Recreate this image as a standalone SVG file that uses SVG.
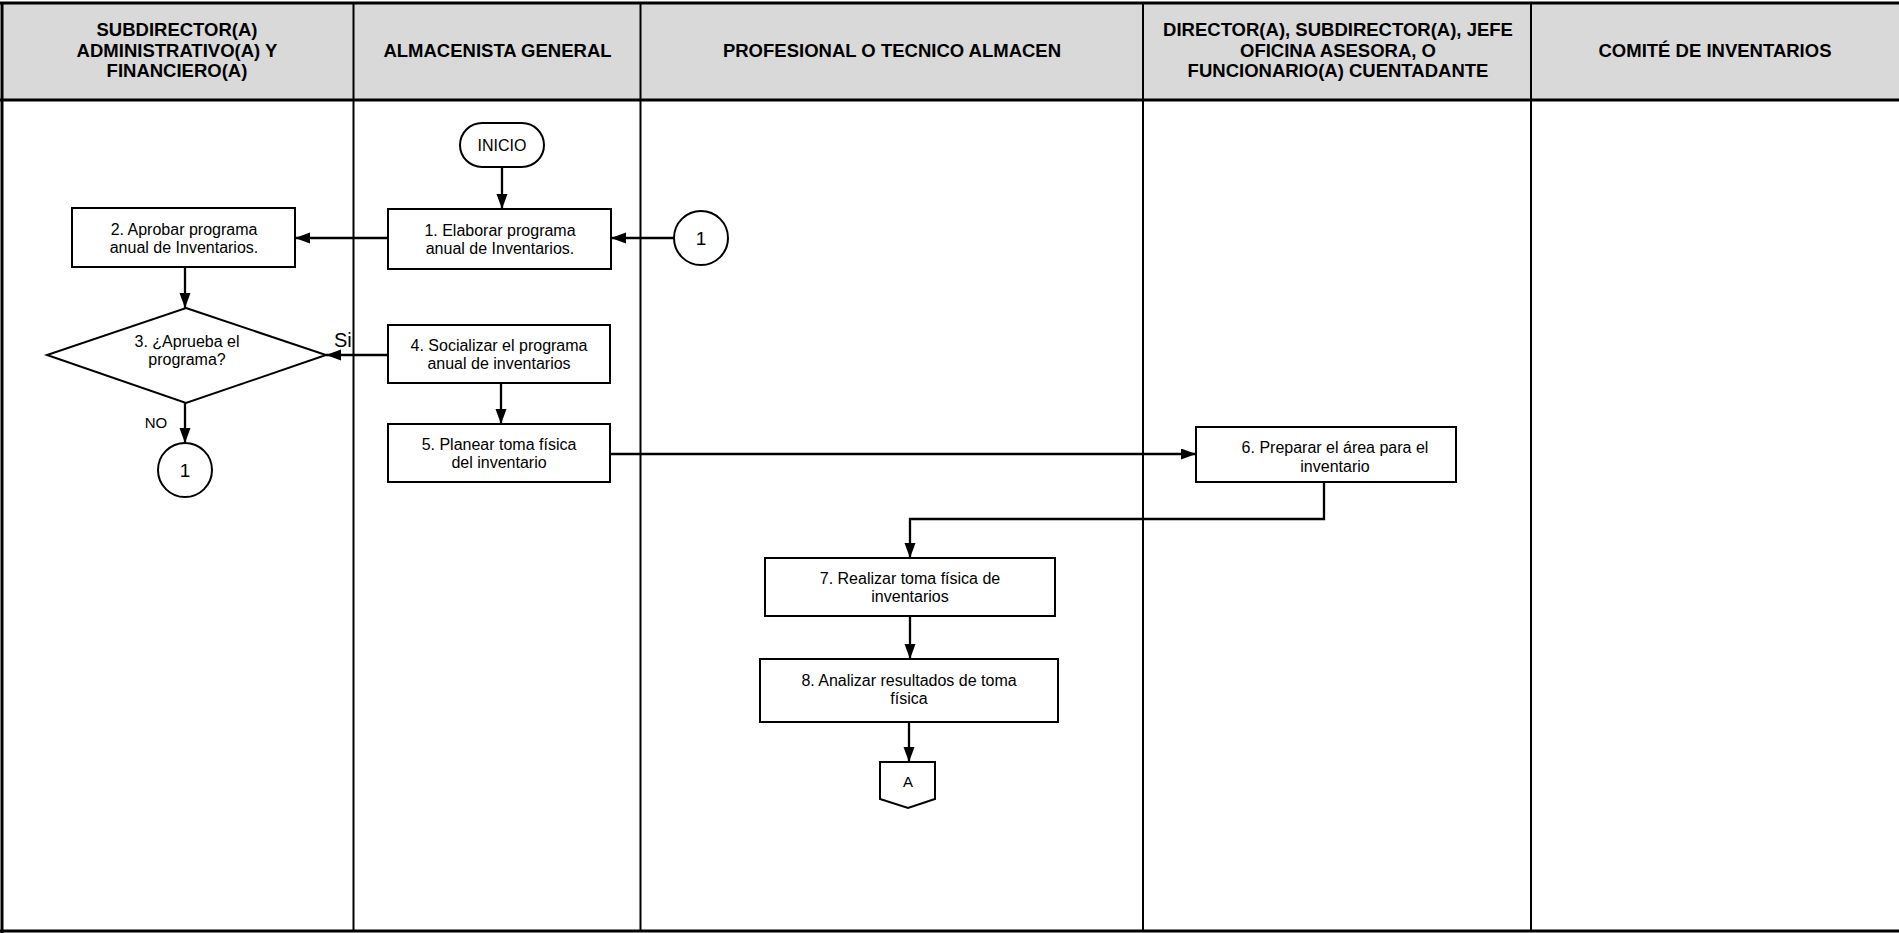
<svg xmlns="http://www.w3.org/2000/svg" width="1899" height="933" viewBox="0 0 1899 933">
<defs>
<style>
.hdr{fill:#d9d9d9;stroke:none}
.frame{stroke:#000;stroke-width:3;fill:none}
.lane{stroke:#000;stroke-width:2;fill:none}
.ht{font-family:"Liberation Sans",Arial,sans-serif;font-weight:bold;font-size:18.5px;fill:#000;text-anchor:middle}
.box{fill:#fff;stroke:#000;stroke-width:2}
.t{font-family:"Liberation Sans",Arial,sans-serif;font-size:16px;fill:#000;text-anchor:middle}
.c{stroke:#000;stroke-width:2.3;fill:none}
</style>
<marker id="arr" markerUnits="userSpaceOnUse" markerWidth="17" markerHeight="12" refX="15" refY="5.5" orient="auto">
<path d="M0,0 L15,5.5 L0,11 Z" fill="#000"/>
</marker>
</defs>
<rect x="0" y="0" width="1899" height="933" fill="#fff"/>
<g id="lanes">
<rect class="hdr" x="2" y="3" width="1897" height="97"/>
<line class="lane" x1="353.5" y1="3" x2="353.5" y2="931"/>
<line class="lane" x1="640.5" y1="3" x2="640.5" y2="931"/>
<line class="lane" x1="1143" y1="3" x2="1143" y2="931"/>
<line class="lane" x1="1531" y1="3" x2="1531" y2="931"/>
<line class="frame" x1="0" y1="3" x2="1899" y2="3"/>
<line class="frame" x1="0" y1="100" x2="1899" y2="100"/>
<line class="frame" x1="2" y1="2" x2="2" y2="933"/>
<line class="frame" x1="0" y1="931" x2="1899" y2="931"/>
<text class="ht" x="177" y="36">SUBDIRECTOR(A)</text>
<text class="ht" x="177" y="56.5">ADMINISTRATIVO(A) Y</text>
<text class="ht" x="177" y="77">FINANCIERO(A)</text>
<text class="ht" x="497.5" y="57">ALMACENISTA GENERAL</text>
<text class="ht" x="892" y="57">PROFESIONAL O TECNICO ALMACEN</text>
<text class="ht" x="1338" y="36">DIRECTOR(A), SUBDIRECTOR(A), JEFE</text>
<text class="ht" x="1338" y="56.5">OFICINA ASESORA, O</text>
<text class="ht" x="1338" y="77">FUNCIONARIO(A) CUENTADANTE</text>
<text class="ht" x="1715" y="57">COMITÉ DE INVENTARIOS</text>
</g>
<g id="connectors">
<line class="c" x1="502" y1="167" x2="502" y2="209" marker-end="url(#arr)"/>
<line class="c" x1="388" y1="238" x2="295" y2="238" marker-end="url(#arr)"/>
<line class="c" x1="674" y1="238" x2="611" y2="238" marker-end="url(#arr)"/>
<line class="c" x1="185" y1="267" x2="185" y2="308" marker-end="url(#arr)"/>
<line class="c" x1="388" y1="355" x2="326" y2="355" marker-end="url(#arr)"/>
<line class="c" x1="185" y1="403" x2="185" y2="443" marker-end="url(#arr)"/>
<line class="c" x1="501" y1="383" x2="501" y2="424" marker-end="url(#arr)"/>
<line class="c" x1="610" y1="454" x2="1196" y2="454" marker-end="url(#arr)"/>
<polyline class="c" points="1324,482 1324,519 910,519 910,558" marker-end="url(#arr)"/>
<line class="c" x1="910" y1="616" x2="910" y2="659" marker-end="url(#arr)"/>
<line class="c" x1="909" y1="722" x2="909" y2="762" marker-end="url(#arr)"/>
<text x="334" y="347" style="font-family:'Liberation Sans',Arial,sans-serif;font-size:20px">Si</text>
<text class="t" x="156" y="428" style="font-size:15px">NO</text>
</g>
<g id="inicio">
<rect class="box" x="460" y="123" width="84" height="44" rx="22" ry="22"/>
<text class="t" x="502" y="150.5">INICIO</text>
</g>
<g id="n1">
<rect class="box" x="388" y="209" width="223" height="60"/>
<text class="t" x="500" y="236">1. Elaborar programa</text>
<text class="t" x="500" y="254">anual de Inventarios.</text>
</g>
<g id="c1r">
<circle class="box" cx="701" cy="238" r="27"/>
<text class="t" x="701" y="245" style="font-size:19px">1</text>
</g>
<g id="n2">
<rect class="box" x="72" y="208" width="223" height="59"/>
<text class="t" x="184" y="235">2. Aprobar programa</text>
<text class="t" x="184" y="253">anual de Inventarios.</text>
</g>
<g id="n3">
<polygon class="box" points="186,308 326,355 186,403 47,355"/>
<text class="t" x="187" y="347">3. ¿Aprueba el</text>
<text class="t" x="187" y="365">programa?</text>
</g>
<g id="c1b">
<circle class="box" cx="185" cy="470" r="27"/>
<text class="t" x="185" y="477" style="font-size:19px">1</text>
</g>
<g id="n4">
<rect class="box" x="388" y="325" width="222" height="58"/>
<text class="t" x="499" y="351">4. Socializar el programa</text>
<text class="t" x="499" y="369">anual de inventarios</text>
</g>
<g id="n5">
<rect class="box" x="388" y="424" width="222" height="58"/>
<text class="t" x="499" y="450">5. Planear toma física</text>
<text class="t" x="499" y="468">del inventario</text>
</g>
<g id="n6">
<rect class="box" x="1196" y="427" width="260" height="55"/>
<text class="t" x="1335" y="453">6. Preparar el área para el</text>
<text class="t" x="1335" y="471.5">inventario</text>
</g>
<g id="n7">
<rect class="box" x="765" y="558" width="290" height="58"/>
<text class="t" x="910" y="584">7. Realizar toma física de</text>
<text class="t" x="910" y="602">inventarios</text>
</g>
<g id="n8">
<rect class="box" x="760" y="659" width="298" height="63"/>
<text class="t" x="909" y="686">8. Analizar resultados de toma</text>
<text class="t" x="909" y="704">física</text>
</g>
<g id="ca">
<polygon class="box" points="880,762 935,762 935,799 908,808 880,799"/>
<text class="t" x="908" y="787" style="font-size:15px">A</text>
</g>
</svg>
